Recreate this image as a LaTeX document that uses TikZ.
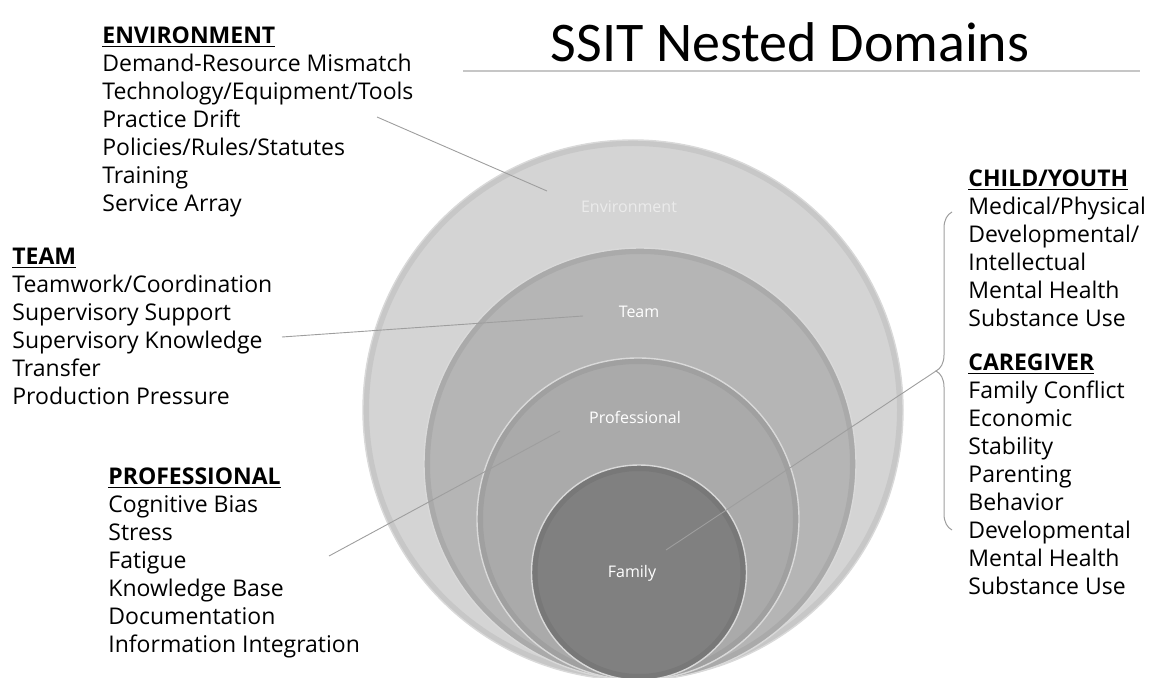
\documentclass[tikz,border=0pt]{standalone}
\usepackage{fontspec}
\setmainfont{Open Sans}
\newfontfamily\titlefont{Carlito}
\usetikzlibrary{positioning}
\usetikzlibrary{calc}
\usetikzlibrary{decorations.pathreplacing}

\definecolor{envgray}{gray}{0.83}
\definecolor{teamgray}{gray}{0.71}
\definecolor{profgray}{gray}{0.665}
\definecolor{famgray}{gray}{0.50}
\definecolor{linegray}{gray}{0.62}

\begin{document}
\begin{tikzpicture}[x=0.5pt, y=-0.5pt,
    disc/.style={circle, inner sep=0pt, draw=white!85!black, line width=0.7pt,
        path picture={\draw[black, opacity=.06, line width=6pt]
            let \p1=($(path picture bounding box.north east)-(path picture bounding box.center)$)
            in (path picture bounding box.center) circle (\x1);}},
    disclbl/.style={font=\fontsize{8}{10}\selectfont, text=white},
    block/.style={align=left, anchor=north west, inner sep=0pt, font=\fontsize{11.5}{14}\selectfont},
    leader/.style={draw=linegray, line width=0.45pt}
]
    \useasboundingbox (0,0) rectangle (1152,678);

    % Title
    \node[font=\titlefont\fontsize{28}{30}\selectfont, anchor=base] (title) at (790,62) {SSIT Nested Domains};
    \coordinate (ruleL) at (463,71);
    \coordinate (ruleR) at (1140,71);
    \draw[gray!45, line width=1pt] (ruleL) -- (ruleR);

    % Nested circles
    \node[disc, fill=envgray, minimum size=270pt] (env) at (633,410) {};
    \node[disc, fill=teamgray, minimum size=216pt] (team) at (640,464) {};
    \node[disc, fill=profgray, minimum size=161pt] (prof) at (638,519) {};
    \node[disc, fill=famgray, minimum size=107.5pt] (fam) at (639,572.5) {};

    \node[disclbl, text=white!92!black] (envL) at (629,207) {Environment};
    \node[disclbl] (teamL) at (639,312) {Team};
    \node[disclbl] (profL) at (635,417) {Professional};
    \node[disclbl] (famL) at (632,573) {Family};

    % Left lists
    \node[block] (envT) at (102,26) {\underline{\textbf{ENVIRONMENT}}\\
        Demand-Resource Mismatch\\ Technology/Equipment/Tools\\ Practice Drift\\
        Policies/Rules/Statutes\\ Training\\ Service Array};
    \node[block] (teamT) at (12,248) {\underline{\textbf{TEAM}}\\
        Teamwork/Coordination\\ Supervisory Support\\ Supervisory Knowledge\\
        Transfer\\ Production Pressure};
    \node[block] (profT) at (108,467) {\underline{\textbf{PROFESSIONAL}}\\
        Cognitive Bias\\ Stress\\ Fatigue\\ Knowledge Base\\ Documentation\\
        Information Integration};

    % Right lists
    \node[block] (childT) at (968,169) {\underline{\textbf{CHILD/YOUTH}}\\
        Medical/Physical\\ Developmental/\\ Intellectual\\ Mental Health\\ Substance Use};
    \node[block] (careT) at (968,353) {\underline{\textbf{CAREGIVER}}\\
        Family Conflict\\ Economic\\ Stability\\ Parenting\\ Behavior\\
        Developmental\\ Mental Health\\ Substance Use};

    % Bracket
    \coordinate (brB) at (952,530);
    \coordinate (brT) at (952,212);
    \coordinate (brtip) at (936,371);
    \draw[linegray, line width=0.5pt, decorate, decoration={brace, amplitude=8pt}] (brB) -- (brT);

    % Leader lines
    \coordinate (envA) at (377,117);
    \coordinate (envB) at (547,191);
    \draw[leader] (envA) -- (envB);

    \coordinate (teamA) at (282,337);
    \coordinate (teamB) at (583,316);
    \draw[leader] (teamA) -- (teamB);

    \coordinate (profA) at (329,556);
    \coordinate (profB) at (560,431);
    \draw[leader] (profA) -- (profB);

    \coordinate (famA) at (666,550);
    \draw[leader] (famA) -- (brtip);
\end{tikzpicture}
\end{document}
